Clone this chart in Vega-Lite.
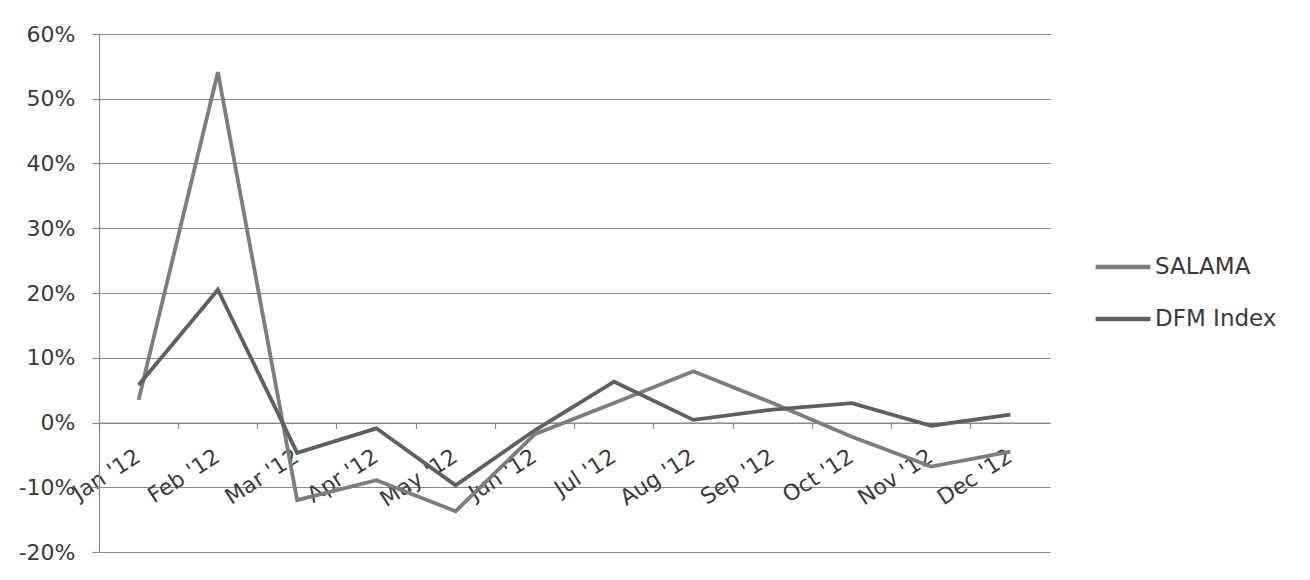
{
  "$schema": "https://vega.github.io/schema/vega-lite/v6.json",
  "autosize": {"type": "none"},
  "width": 951,
  "height": 518,
  "padding": {"left": 99, "top": 34, "right": 260, "bottom": 28},
  "background": "white",
  "config": {
    "view": {"stroke": null},
    "font": "DejaVu Sans"
  },
  "data": {
    "values": [
      {"month": "Jan '12", "series": "SALAMA", "value": 0.035},
      {"month": "Feb '12", "series": "SALAMA", "value": 0.541},
      {"month": "Mar '12", "series": "SALAMA", "value": -0.12},
      {"month": "Apr '12", "series": "SALAMA", "value": -0.089},
      {"month": "May '12", "series": "SALAMA", "value": -0.137},
      {"month": "Jun '12", "series": "SALAMA", "value": -0.018},
      {"month": "Jul '12", "series": "SALAMA", "value": 0.03},
      {"month": "Aug '12", "series": "SALAMA", "value": 0.079},
      {"month": "Sep '12", "series": "SALAMA", "value": 0.03},
      {"month": "Oct '12", "series": "SALAMA", "value": -0.022},
      {"month": "Nov '12", "series": "SALAMA", "value": -0.068},
      {"month": "Dec '12", "series": "SALAMA", "value": -0.045},
      {"month": "Jan '12", "series": "DFM Index", "value": 0.058},
      {"month": "Feb '12", "series": "DFM Index", "value": 0.205},
      {"month": "Mar '12", "series": "DFM Index", "value": -0.047},
      {"month": "Apr '12", "series": "DFM Index", "value": -0.009},
      {"month": "May '12", "series": "DFM Index", "value": -0.097},
      {"month": "Jun '12", "series": "DFM Index", "value": -0.012},
      {"month": "Jul '12", "series": "DFM Index", "value": 0.063},
      {"month": "Aug '12", "series": "DFM Index", "value": 0.004},
      {"month": "Sep '12", "series": "DFM Index", "value": 0.02},
      {"month": "Oct '12", "series": "DFM Index", "value": 0.03},
      {"month": "Nov '12", "series": "DFM Index", "value": -0.005},
      {"month": "Dec '12", "series": "DFM Index", "value": 0.012}
    ]
  },
  "mark": {"type": "line", "strokeWidth": 3.8, "strokeJoin": "miter"},
  "encoding": {
    "x": {
      "field": "month",
      "type": "ordinal",
      "bandPosition": 0.5,
      "sort": ["Jan '12", "Feb '12", "Mar '12", "Apr '12", "May '12", "Jun '12", "Jul '12", "Aug '12", "Sep '12", "Oct '12", "Nov '12", "Dec '12"],
      "scale": {"type": "band", "paddingInner": 0, "paddingOuter": 0},
      "axis": {
        "title": null,
        "orient": "bottom",
        "offset": -129.5,
        "bandPosition": 0,
        "labelOffset": -6,
        "labelAngle": -33,
        "labelAlign": "right",
        "labelBaseline": "top",
        "labelPadding": 17,
        "labelFontSize": 22,
        "labelColor": "#3a3a3a",
        "tickColor": "#8a8a8a",
        "tickSize": 6,
        "tickWidth": 1.2,
        "domainColor": "#8a8a8a",
        "domainWidth": 1.2,
        "grid": false
      }
    },
    "y": {
      "field": "value",
      "type": "quantitative",
      "scale": {"domain": [-0.2, 0.6], "nice": false, "zero": false},
      "axis": {
        "title": null,
        "values": [-0.2, -0.1, 0, 0.1, 0.2, 0.3, 0.4, 0.5, 0.6],
        "format": ".0%",
        "labelExpr": "replace(datum.label, '−', '-')",
        "labelFontSize": 22,
        "labelColor": "#3a3a3a",
        "labelPadding": 17,
        "tickSize": 7,
        "tickColor": "#8a8a8a",
        "tickWidth": 1.2,
        "domainColor": "#8a8a8a",
        "domainWidth": 1.2,
        "grid": true,
        "gridColor": "#8a8a8a",
        "gridWidth": 1.2
      }
    },
    "color": {
      "field": "series",
      "type": "nominal",
      "scale": {"domain": ["SALAMA", "DFM Index"], "range": ["#7b7e7b", "#5c615d"]},
      "legend": {
        "title": null,
        "orient": "none",
        "legendX": 994,
        "legendY": 203,
        "symbolType": "stroke",
        "symbolSize": 3000,
        "symbolStrokeWidth": 4.5,
        "labelFontSize": 23,
        "labelColor": "#3a3a3a",
        "labelOffset": 2,
        "rowPadding": 10
      }
    }
  }
}
